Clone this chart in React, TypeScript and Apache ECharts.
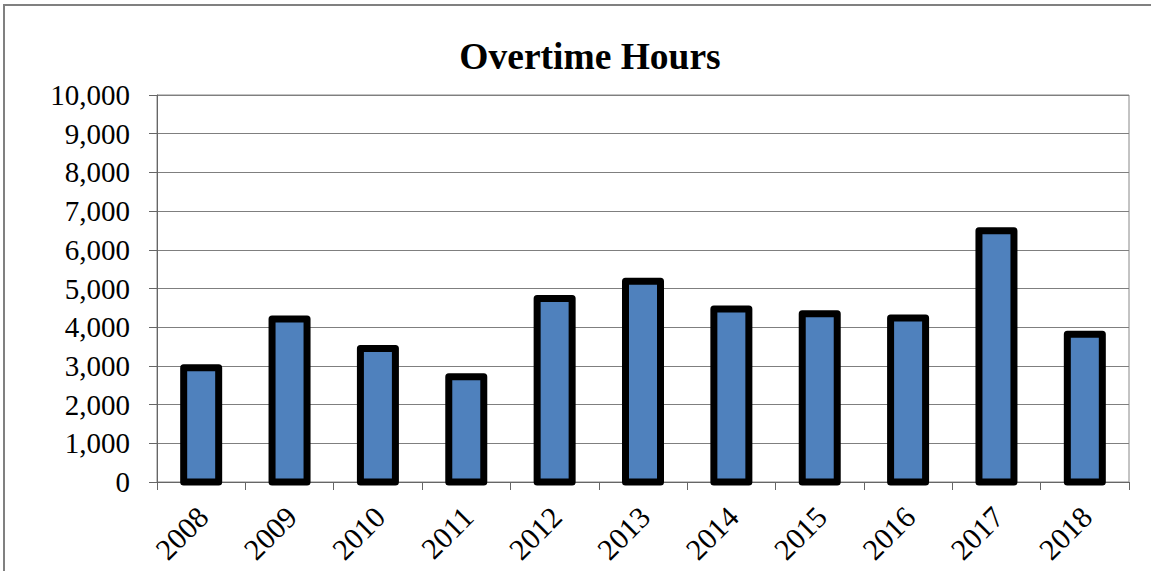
import React, { useEffect, useRef } from "react";
import * as echarts from "echarts";

const categories = ["2008", "2009", "2010", "2011", "2012", "2013", "2014", "2015", "2016", "2017", "2018"];
const overtimeHours = [2950, 4210, 3450, 2720, 4740, 5190, 4470, 4350, 4240, 6490, 3820];
const yTicks = { min: 0, max: 10000, interval: 1000 };
const titleText = "Overtime Hours";

const SERIF = "'Liberation Serif', 'Times New Roman', serif";

export default function App() {
  const ref = useRef<HTMLDivElement>(null);
  useEffect(() => {
    if (!ref.current) return;
    const chart = echarts.init(ref.current, null, { renderer: "svg" });
    chart.setOption({
      animation: false,
      backgroundColor: "#ffffff",
      title: {
        text: titleText,
        left: 585,
        top: 32,
        textAlign: "center",
        textStyle: { fontFamily: SERIF, fontSize: 37.5, fontWeight: "bold", color: "#000" },
      },
      graphic: [
        {
          type: "rect",
          shape: { x: 4, y: 5, width: 1200, height: 700 },
          style: { fill: "none", stroke: "#808080", lineWidth: 2 },
          silent: true,
        },
      ],
      grid: {
        left: 157,
        right: 22,
        top: 95,
        bottom: 89,
        show: true,
        borderColor: "#888888",
        borderWidth: 1,
        backgroundColor: "transparent",
      },
      xAxis: {
        type: "category",
        data: categories,
        axisLine: { lineStyle: { color: "#666666", width: 1 } },
        axisTick: { show: true, length: 8, interval: 0, lineStyle: { color: "#666666" } },
        axisLabel: {
          interval: 0,
          rotate: 45,
          margin: 21,
          align: "right",
          verticalAlign: "top",
          lineHeight: 15,
          padding: [0, 5, 0, 0],
          fontFamily: SERIF,
          fontSize: 30,
          color: "#000",
        },
      },
      yAxis: {
        type: "value",
        min: yTicks.min,
        max: yTicks.max,
        interval: yTicks.interval,
        axisLine: { show: true, lineStyle: { color: "#666666", width: 1 } },
        axisTick: { show: true, length: 8, lineStyle: { color: "#666666" } },
        splitLine: { show: true, lineStyle: { color: "#7f7f7f", width: 1 } },
        axisLabel: {
          margin: 27,
          fontFamily: SERIF,
          fontSize: 29,
          color: "#000",
          formatter: (v: number) => v.toLocaleString("en-US"),
        },
      },
      series: [
        {
          type: "custom",
          data: overtimeHours.map((v, i) => [i, v]),
          encode: { x: 0, y: 1 },
          renderItem: (params: any, api: any) => {
            const top = api.coord([api.value(0), api.value(1)]);
            const base = api.coord([api.value(0), 0]);
            const bw = 35;
            return {
              type: "rect",
              shape: { x: top[0] - bw / 2, y: top[1], width: bw, height: base[1] - top[1] },
              style: { fill: "#4f81bd", stroke: "#000000", lineWidth: 7, lineJoin: "round" },
            };
          },
        },
      ],
    });
    return () => chart.dispose();
  }, []);
  return (
    <div
      ref={ref}
      style={{ position: "fixed", left: 0, top: 0, width: 1151, height: 571 }}
    />
  );
}
